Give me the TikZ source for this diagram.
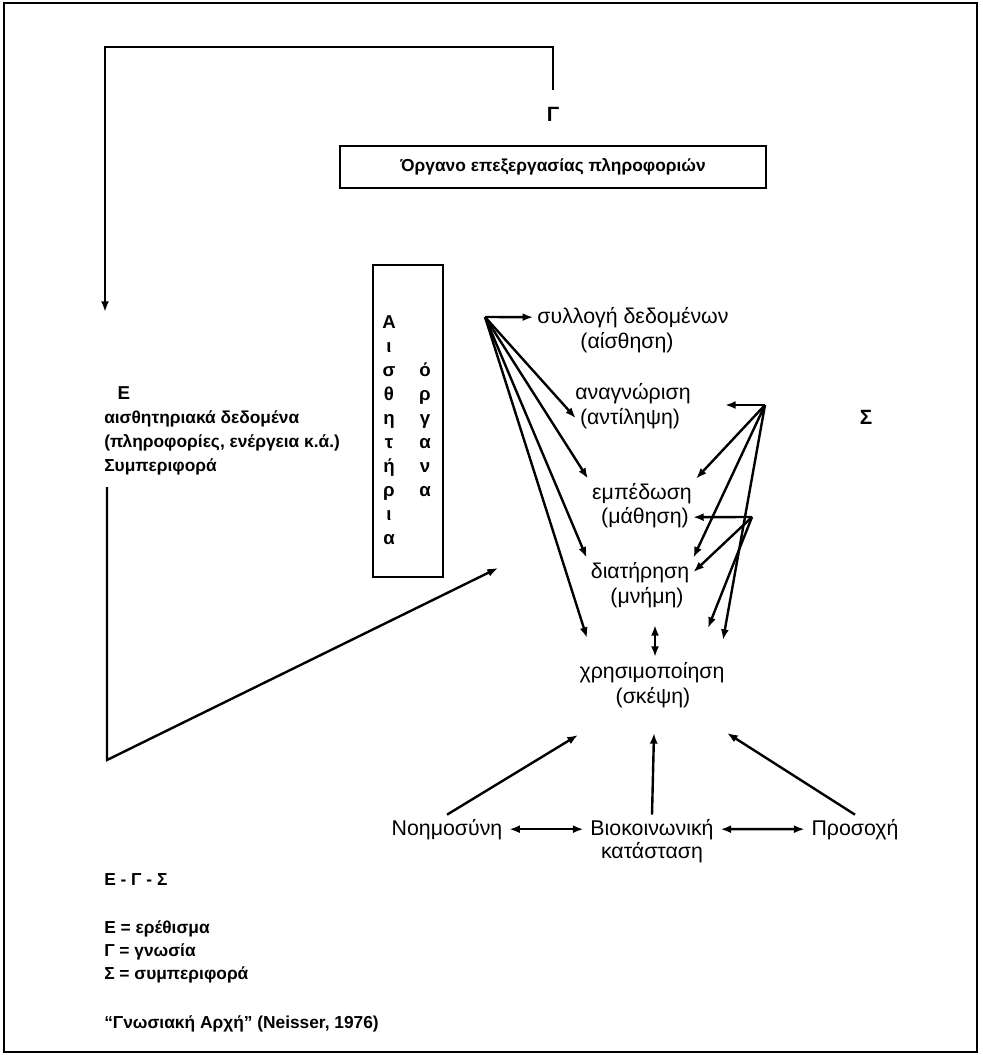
\documentclass[tikz,border=0pt]{standalone}
\usepackage{fontspec}
\setmainfont{Liberation Sans}
\usetikzlibrary{arrows.meta}

\tikzset{
  wire/.style={line width=1.8pt},
  tip/.style={wire,-{Latex[length=8pt,width=6pt]}},
  both/.style={wire,{Latex[length=8pt,width=6pt]}-{Latex[length=8pt,width=6pt]}},
  txt/.style={inner sep=3pt,anchor=base,font=\fontsize{16}{18.75}\selectfont},
  btxt/.style={inner sep=3pt,anchor=base,font=\fontsize{13}{18}\selectfont\bfseries},
  ltr/.style={btxt,font=\fontsize{14}{18}\selectfont\bfseries},
  big/.style={btxt,font=\fontsize{15.5}{18}\selectfont\bfseries},
}

\begin{document}
\begin{tikzpicture}[x=0.75pt,y=0.75pt,yscale=-1,xscale=1]
\path[use as bounding box] (0,0) rectangle (982,1055);

%Shape: Rectangle (frame)
\draw[line width=2.2pt] (4,3) rectangle (977,1052);

% Text Node
\node[big] (gam) at (553,122) {Γ};
% Text Node
\node[btxt,anchor=center,draw,line width=1.6pt,minimum width=319.5pt,minimum height=31.5pt] (proc) at (553,167) {Όργανο επεξεργασίας πληροφοριών};

%Straight Lines (upper loop)
\coordinate (lpTop) at (553,90);
\coordinate (lpR) at (553,47);
\coordinate (lpL) at (105,47);
\coordinate (lpEnd) at (105,312);
\draw[tip] (lpTop) -- (lpR) -- (lpL) -- (lpEnd);

% Text Node
\node[btxt,anchor=north west,align=left] (stim) at (100,382) {\hspace*{10pt}{\fontsize{14}{18}\selectfont Ε}\\αισθητηριακά δεδομένα\\(πληροφορίες, ενέργεια κ.ά.)\\Συμπεριφορά};

%Straight Lines (lower loop)
\coordinate (lwTop) at (107,487);
\coordinate (lwCorner) at (107,760);
\coordinate (lwEnd) at (498,568);
\draw[tip] (lwTop) -- (lwCorner) -- (lwEnd);

%Shape: Rectangle (senses)
\node[draw,line width=1.6pt,minimum width=52.5pt,minimum height=234pt] (sense) at (408,421) {};
\foreach \l [count=\i from 0] in {Α,ι,σ,θ,η,τ,ή,ρ,ι,α}
  \node[ltr] (sl\i) at (389,328+24*\i) {\l};
\foreach \l [count=\i from 2] in {ό,ρ,γ,α,ν,α}
  \node[ltr] (sr\i) at (425,328+24*\i) {\l};

% Text Node
\node[txt] (coll) at (633,323) {συλλογή δεδομένων};
\node[txt] (sens) at (627,348) {(αίσθηση)};
\node[txt] (rec) at (633,399) {αναγνώριση};
\node[txt] (perc) at (630,424) {(αντίληψη)};
\node[txt] (emb) at (642,499) {εμπέδωση};
\node[txt] (lrn) at (645,523) {(μάθηση)};
\node[txt] (ret) at (640,578) {διατήρηση};
\node[txt] (mem) at (647,603) {(μνήμη)};
\node[txt] (use) at (652,678) {χρησιμοποίηση};
\node[txt] (thk) at (653,703) {(σκέψη)};
\node[big] (sig) at (866,424) {Σ};

%Straight Lines (left fan)
\coordinate (lf) at (485,317);
\coordinate (lfUse) at (587,638);
\draw[tip] (lf) -- (coll.west);
\draw[tip] (lf) -- (perc.west);
\draw[tip] (lf) -- (emb.north west);
\draw[tip] (lf) -- (ret.north west);
\draw[tip] (lf) -- (lfUse);

%Straight Lines (right fan)
\coordinate (rf) at (765,405);
\coordinate (rf2) at (752,517);
\coordinate (rfRec) at (725,405);
\coordinate (rfUse) at (723,640);
\coordinate (rf2Use) at (708,628);
\draw[tip] (rf) -- (rfRec);
\draw[tip] (rf) -- (emb.north east);
\draw[tip] (rf) -- (ret.north east);
\draw[tip] (rf) -- (rfUse);
\draw[tip] (rf2) -- (lrn.east);
\draw[tip] (rf2) -- (ret.east);
\draw[tip] (rf2) -- (rf2Use);

%Straight Lines (memory - use)
\coordinate (mu1) at (655,625);
\coordinate (mu2) at (655,657);
\draw[both] (mu1) -- (mu2);

% Text Node
\node[txt] (intel) at (447,835) {Νοημοσύνη};
\node[txt] (bio) at (652,835) {Βιοκοινωνική};
\node[txt] (state) at (652,858) {κατάσταση};
\node[txt] (att) at (855,835) {Προσοχή};

%Straight Lines (bottom)
\coordinate (inUse) at (578,735);
\coordinate (bioUse) at (654,733);
\coordinate (attUse) at (727,733);
\draw[tip] (intel.north) -- (inUse);
\draw[tip] (bio.north) -- (bioUse);
\draw[tip] (att.north) -- (attUse);
\draw[both,shorten <=2pt,shorten >=2pt] (intel.east) -- (bio.west);
\draw[both,shorten <=2pt,shorten >=2pt] (bio.east) -- (att.west);

% Text Node (legend)
\node[btxt,anchor=west] (egs) at (100,880) {Ε - Γ - Σ};
\node[btxt,anchor=west] (lgE) at (100,929) {Ε = ερέθισμα};
\node[btxt,anchor=west] (lgG) at (100,952) {Γ = γνωσία};
\node[btxt,anchor=west] (lgS) at (100,975) {Σ = συμπεριφορά};
\node[btxt,anchor=west] (src) at (100,1024) {“Γνωσιακή Αρχή” (Neisser, 1976)};

\end{tikzpicture}
\end{document}
